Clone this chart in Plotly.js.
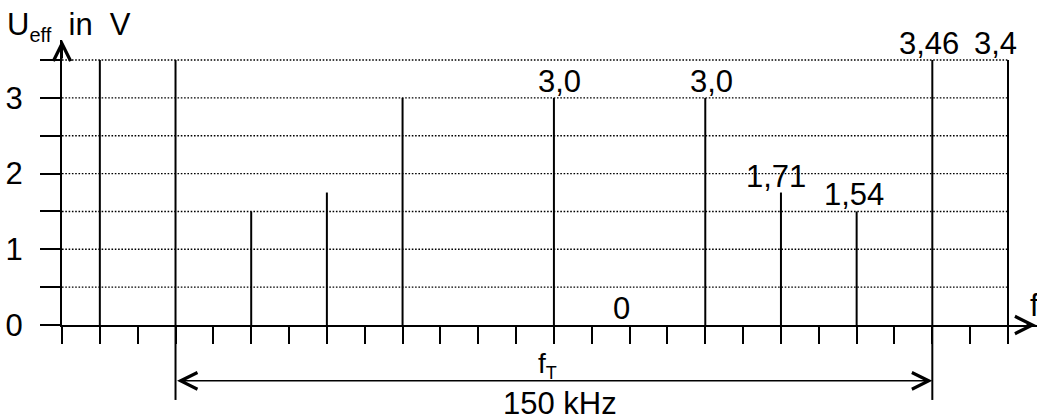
<!DOCTYPE html>
<html><head><meta charset="utf-8">
<script src="https://cdn.plot.ly/plotly-3.0.1.min.js"></script>
<style>html,body{margin:0;padding:0;background:#fff;}#chart{width:1037px;height:414px;}</style>
</head><body><div id="chart"></div>
<script>
// ---- data ----
const stemX = [1, 3, 5, 7, 9, 13, 17, 19, 21, 23, 25];
const stemU = [3.5, 3.5, 1.5, 1.75, 3.0, 3.0, 3.0, 1.75, 1.5, 3.5, 3.5];
const labelX = [13, 17, 19, 21, 23, 25, 15];
const labelY = [3.0, 3.0, 1.75, 1.5, 3.5, 3.5, 0];
const labelText = ['3,0', '3,0', '1,71', '1,54', '3,46', '3,4', '0'];
const gridVals = [0.5, 1, 1.5, 2, 2.5, 3, 3.5];
const yTickVals = [0, 0.5, 1, 1.5, 2, 2.5, 3, 3.5];
const yTickText = ['0', '', '1', '', '2', '', '3', ''];
const bandEdges = [3, 23];
const bandCenter = 13;
const bandText = '150 kHz';
const yTitle = 'U<sub><span style="font-size:20px">eff</span></sub>\u00A0 in\u00A0 V';
const xTitle = 'f';
const bandLabel = 'f<sub><span style="font-size:18px">T</span></sub>';

// ---- build ----
const FONT = 'Liberation Sans, Arial, sans-serif';
const FS = 31;
const xs = [], ys = [];
stemX.forEach((x, i) => { xs.push(x, x, null); ys.push(0, stemU[i], null); });

const xMax = Math.max(...stemX);
const shapes = [];
gridVals.forEach(g => shapes.push({type:'line', xref:'x', yref:'y', x0:0, x1:xMax, y0:g, y1:g,
  layer:'below', line:{color:'#000', width:1.4, dash:'1.6px,1.7px'}}));
bandEdges.forEach(b => shapes.push({type:'line', xref:'x', yref:'paper', x0:b, x1:b, y0:0, y1:-0.263,
  line:{color:'#000', width:2}}));

const shifts = [6, 6, -5, -3, -3, -13, -8];
const annotations = labelText.map((t, i) => ({
  xref:'x', yref:'y', x:labelX[i], y:labelY[i], text:t, showarrow:false,
  xanchor:'center', yanchor:'bottom', xshift:shifts[i], yshift:-3,
  font:{family:FONT, size:FS, color:'#000'}
}));
// axis arrows
annotations.push({xref:'paper', yref:'paper', x:0, y:1, ax:0, ay:20, text:'', showarrow:true,
  arrowhead:5, arrowsize:1.7, arrowwidth:2, arrowcolor:'#000'});
annotations.push({xref:'paper', yref:'paper', x:1 + 8/975, y:0, ax:-20, ay:0, text:'', showarrow:true,
  arrowhead:5, arrowsize:1.7, arrowwidth:2, arrowcolor:'#000'});
// band arrow
annotations.push({xref:'x', axref:'x', x:bandEdges[1], ax:bandEdges[0], yref:'paper', ayref:'pixel', y:-0.196, ay:0,
  text:'', showarrow:true, arrowside:'end+start', arrowhead:5, startarrowhead:5, arrowsize:2.2, startarrowsize:2.2,
  arrowwidth:1.5, arrowcolor:'#000'});
annotations.push({xref:'x', yref:'paper', x:bandCenter, y:-0.2, xshift:-6, yshift:-3, text:bandLabel, showarrow:false,
  xanchor:'center', yanchor:'bottom', font:{family:FONT, size:28, color:'#000'}});
annotations.push({xref:'x', yref:'paper', x:bandCenter, y:-0.205, xshift:6, yshift:-1, text:bandText, showarrow:false,
  xanchor:'center', yanchor:'top', font:{family:FONT, size:FS, color:'#000'}});
annotations.push({xref:'paper', yref:'paper', x:-0.0585, y:0.972, text:yTitle, showarrow:false,
  xanchor:'left', yanchor:'bottom', font:{family:FONT, size:FS, color:'#000'}});
annotations.push({xref:'paper', yref:'paper', x:0.9908, y:0, text:xTitle, showarrow:false,
  xanchor:'left', yanchor:'bottom', font:{family:FONT, size:FS, color:'#000'}});

const data = [{type:'scatter', mode:'lines', x:xs, y:ys, line:{color:'#000', width:2}, hoverinfo:'skip', cliponaxis:false}];
const layout = {
  width:1037, height:414, margin:{l:62, r:0, t:40, b:89},
  paper_bgcolor:'#fff', plot_bgcolor:'#fff', showlegend:false,
  font:{family:FONT, size:FS, color:'#000'},
  xaxis:{range:[0, 975/37.84], showline:true, linewidth:2, linecolor:'#000', ticks:'outside', ticklen:17,
    tickwidth:2, tickcolor:'#000', tick0:0, dtick:1, showticklabels:false, showgrid:false, zeroline:false, fixedrange:true},
  yaxis:{range:[0, 285/75.7], showline:true, linewidth:2, linecolor:'#000', ticks:'outside', ticklen:20,
    tickwidth:2, tickcolor:'#000', tickmode:'array', tickvals:yTickVals, ticktext:yTickText,
    tickfont:{family:FONT, size:FS, color:'#000'}, ticklabelstandoff:11, showgrid:false, zeroline:false, fixedrange:true},
  shapes:shapes, annotations:annotations
};
Plotly.newPlot('chart', data, layout, {displayModeBar:false, staticPlot:true});
</script></body></html>
